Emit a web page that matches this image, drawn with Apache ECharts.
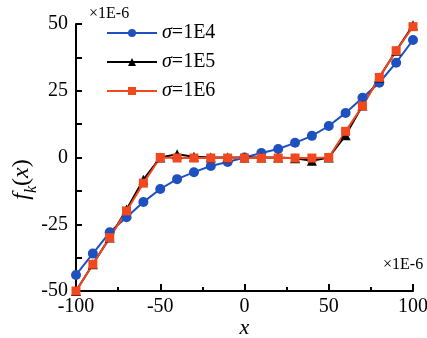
<!DOCTYPE html>
<html>
<head>
<meta charset="utf-8">
<script src="https://cdn.jsdelivr.net/npm/echarts@6/dist/echarts.min.js"></script>
<style>html,body{margin:0;padding:0;background:#fff}#c{width:427px;height:338px}</style>
</head>
<body>
<div id="c"></div>
<script>
const xValues = [-100,-90,-80,-70,-60,-50,-40,-30,-20,-10,0,10,20,30,40,50,60,70,80,90,100];
const s1E4 = [-44,-36,-28,-22.4,-16.7,-11.8,-8.1,-5.5,-3.2,-1.7,0,1.7,3.2,5.5,8.1,11.8,16.7,22.4,28,35.5,44];
const s1E5 = [-50,-40,-30,-19.5,-8.3,0,1.2,0.3,0,0,0,0,0,-0.3,-1.2,0,8.3,19.5,30,40,49.5];
const s1E6 = [-50,-40,-30,-20,-9.6,0,-0.2,-0.2,-0.2,-0.2,-0.2,-0.2,-0.2,-0.2,-0.2,0,9.8,19.3,30,40,49];
const seriesNames = ['σ=1E4','σ=1E5','σ=1E6'];
const xTicks = [-100,-50,0,50,100];
const yTicks = [-50,-25,0,25,50];

const FF = 'Liberation Serif';
const pair = arr => xValues.map((x,i)=>[x,arr[i]]);
const chart = echarts.init(document.getElementById('c'));
const lineS = (name, data, color, symbol, size) => ({
  name, type:'line', data: pair(data), symbol, symbolSize: size,
  lineStyle:{color, width:2}, itemStyle:{color}, z: 2
});
chart.setOption({
  animation:false,
  textStyle:{fontFamily:FF},
  grid:{left:76,right:14,top:24,bottom:47,containLabel:false,outerBoundsMode:'none'},
  legend:{
    orient:'vertical', left:101, top:18, itemWidth:50, itemHeight:10, itemGap:9,
    data: seriesNames,
    formatter: n => '{s|σ}{n|' + n.slice(1) + '}',
    textStyle:{fontFamily:FF, fontSize:20, color:'#000',
      rich:{s:{fontFamily:FF,fontSize:20,fontStyle:'italic',color:'#000'},
            n:{fontFamily:FF,fontSize:20,color:'#000'}}}
  },
  xAxis:{
    type:'value', min:-100, max:100, interval:50,
    name:'x', nameLocation:'middle', nameGap:26, nameMoveOverlap:false,
    nameTextStyle:{fontFamily:FF, fontSize:22, fontStyle:'italic', color:'#000'},
    axisLine:{show:true, onZero:false, lineStyle:{color:'#000', width:2}},
    axisTick:{inside:true, length:7, lineStyle:{color:'#000', width:2}},
    minorTick:{show:true, splitNumber:2, length:4, lineStyle:{color:'#000', width:2}},
    axisLabel:{margin:6, fontFamily:FF, fontSize:20, color:'#000',
      formatter: v => xTicks.includes(v) ? String(v) : ''},
    splitLine:{show:false}
  },
  yAxis:{
    type:'value', min:-50, max:50, interval:25,
    name:'{i|f}{sub|k}{n|(}{i|x}{n|)}', nameLocation:'middle', nameGap:36, nameRotate:90, nameMoveOverlap:false,
    nameTextStyle:{fontFamily:FF, fontSize:24, color:'#000', padding:[0,44,0,0],
      rich:{i:{fontFamily:FF,fontSize:24,fontStyle:'italic',color:'#000',lineHeight:30,verticalAlign:'top'},
            n:{fontFamily:FF,fontSize:24,color:'#000',lineHeight:30,verticalAlign:'top'},
            sub:{fontFamily:FF,fontSize:16,fontStyle:'italic',color:'#000',lineHeight:30,verticalAlign:'bottom'}}},
    axisLine:{show:true, onZero:false, lineStyle:{color:'#000', width:2}},
    axisTick:{inside:true, length:6, lineStyle:{color:'#000', width:2}},
    minorTick:{show:true, splitNumber:2, length:6, lineStyle:{color:'#000', width:2}},
    axisLabel:{margin:8, fontFamily:FF, fontSize:20, color:'#000',
      formatter: v => yTicks.includes(v) ? String(v) : ''},
    splitLine:{show:false}
  },
  graphic:[
    {type:'text', left:89, top:6, style:{text:'×1E-6', fontFamily:FF, fontSize:16, fill:'#000'}},
    {type:'text', left:383, top:257, style:{text:'×1E-6', fontFamily:FF, fontSize:16, fill:'#000'}}
  ],
  series:[
    lineS(seriesNames[0], s1E4, '#1f50c0', 'circle', 10),
    lineS(seriesNames[1], s1E5, '#000000', 'triangle', 10),
    lineS(seriesNames[2], s1E6, '#f2481f', 'rect', 9)
  ]
});
</script>
</body>
</html>
